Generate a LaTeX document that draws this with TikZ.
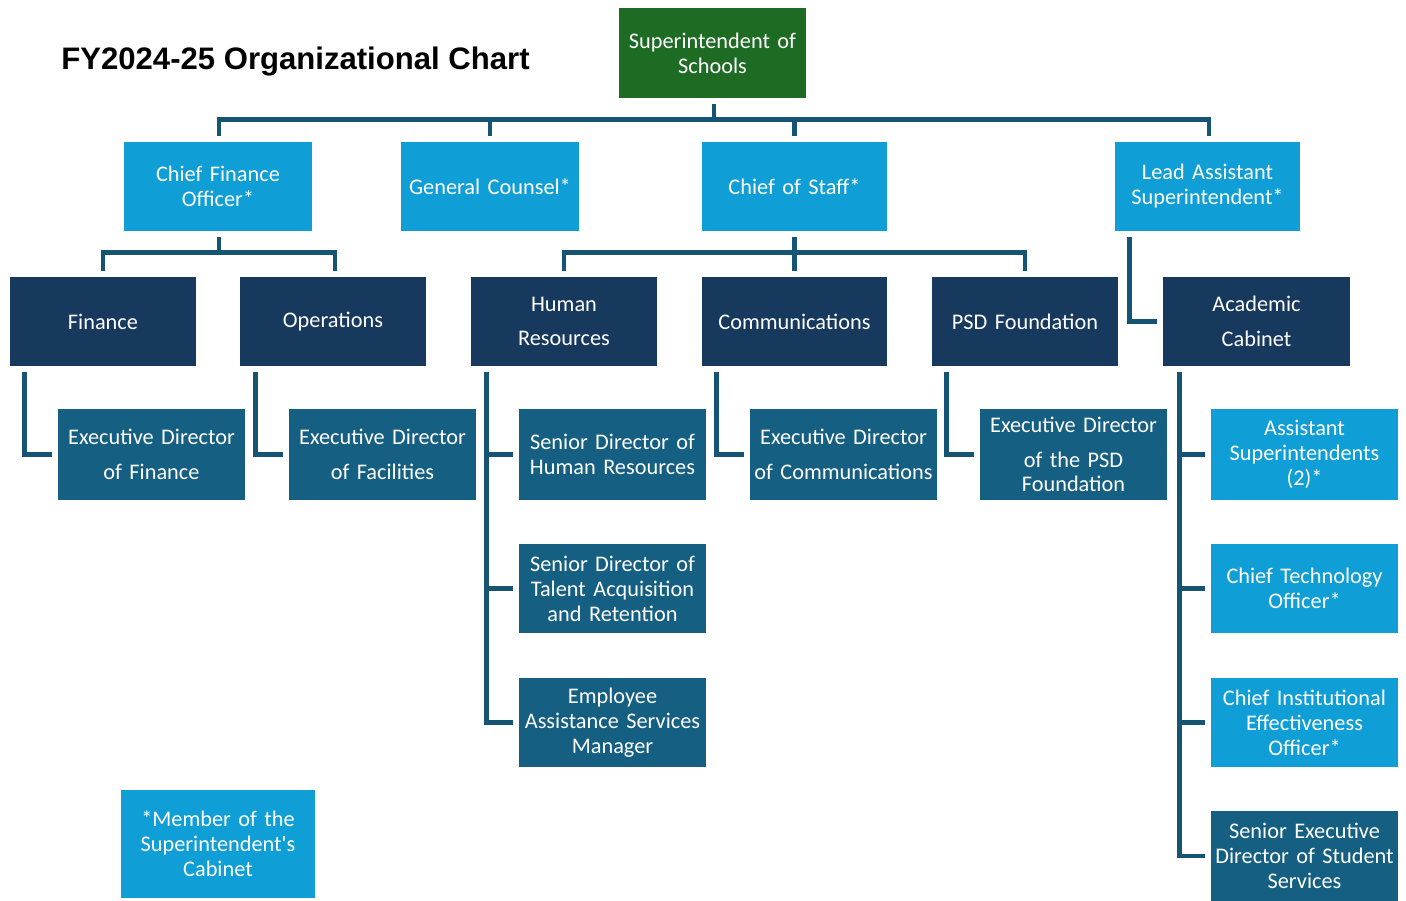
\documentclass[tikz,border=0pt]{standalone}
\usepackage{fontspec}
\setmainfont{Carlito}
\newfontfamily\boxfont{Carlito}
\newfontfamily\titlefont{Liberation Sans}
\usetikzlibrary{calc}
\definecolor{cgreen}{RGB}{30,107,36}
\definecolor{clight}{RGB}{15,158,213}
\definecolor{cnavy}{RGB}{24,57,94}
\definecolor{cteal}{RGB}{21,96,130}
\definecolor{cline}{RGB}{22,84,116}
\tikzset{
  box/.style={rectangle, inner sep=0pt, text=white, align=center,
    font=\boxfont\fontsize{12.7}{14.2}\selectfont, minimum height=1.78cm,
    minimum width=3.74cm, text width=3.74cm},
  greenbox/.style={box, fill=cgreen},
  lightbox/.style={box, fill=clight},
  navybox/.style={box, fill=cnavy},
  tealbox/.style={box, fill=cteal},
  conn/.style={draw=cline, line width=2.8pt, line join=miter}
}
\begin{document}
\begin{tikzpicture}[x=0.02cm, y=-0.02cm]
\useasboundingbox (0,0) rectangle (1406,901);
% title
\node[anchor=base west, inner sep=0pt, font=\titlefont\bfseries\fontsize{17.7}{20}\selectfont] (title) at (61,70) {FY2024-25 Organizational Chart};
% level 0
\node[greenbox, minimum height=1.8cm] (sup) at (712.5,53) {Superintendent of\\Schools};
% level 1
\node[lightbox, minimum width=3.76cm, text width=3.76cm] (cfo) at (218,186.5) {Chief Finance\\Officer*};
\node[lightbox, minimum width=3.56cm, text width=3.56cm] (gc) at (490,186.5) {General Counsel*};
\node[lightbox, minimum width=3.70cm, text width=3.70cm] (cos) at (794.5,186.5) {Chief of Staff*};
\node[lightbox, minimum width=3.70cm, text width=3.70cm] (lead) at (1207.5,186.5) {Lead Assistant\\Superintendent*};
% level 2
\node[navybox, minimum width=3.72cm, text width=3.72cm] (fin) at (103,321.5) {Finance};
\node[navybox, minimum width=3.72cm, text width=3.72cm] (ops) at (333,321.5) {Operations};
\node[navybox, minimum width=3.72cm, text width=3.72cm] (hr) at (564,321.5) {Human\\[5.6pt]Resources};
\node[navybox, minimum width=3.70cm, text width=3.70cm] (comm) at (794.5,321.5) {Communications};
\node[navybox, minimum width=3.72cm, text width=3.72cm] (psd) at (1025,321.5) {PSD Foundation};
\node[navybox] (acad) at (1256.5,321.5) {Academic\\[5.6pt]Cabinet};
% level 3
\node[tealbox, minimum height=1.82cm] (edfin) at (151.5,454.5) {Executive Director\\[5.6pt]of Finance};
\node[tealbox, minimum height=1.82cm] (edfac) at (382.5,454.5) {Executive Director\\[5.6pt]of Facilities};
\node[tealbox, minimum height=1.82cm] (sdhr) at (612.5,454.5) {Senior Director of\\Human Resources};
\node[tealbox, minimum height=1.82cm] (edcomm) at (843.5,454.5) {Executive Director\\[5.6pt]of Communications};
\node[tealbox, minimum height=1.82cm] (edpsd) at (1073.5,454.5) {Executive Director\\[5.6pt]of the PSD\\Foundation};
\node[lightbox, minimum height=1.82cm] (asst) at (1304.5,454.5) {Assistant\\Superintendents\\(2)*};
% level 4
\node[tealbox] (talent) at (612.5,588.5) {Senior Director of\\Talent Acquisition\\and Retention};
\node[tealbox] (eas) at (612.5,722.5) {Employee\\Assistance Services\\Manager};
\node[lightbox] (cto) at (1304.5,588.5) {Chief Technology\\Officer*};
\node[lightbox] (cieo) at (1304.5,722.5) {Chief Institutional\\Effectiveness\\Officer*};
\node[tealbox, minimum height=1.8cm] (sed) at (1304.5,856) {Senior Executive\\Director of Student\\Services};
% legend
\node[lightbox, minimum width=3.88cm, text width=3.88cm, minimum height=2.16cm] (legend) at (218,844) {*Member of the\\Superintendent's\\Cabinet};

% connectors: top bus
\draw[conn] ($(sup.south)+(1.5,6)$) -- ($(sup.south)+(1.5,22)$);
\draw[conn] ($(cfo.north)+(1,-6)$) -- ++(0,-16) -| ($(lead.north)+(1.5,-6)$);
\draw[conn] ($(gc.north)+(0,-6)$) -- ++(0,-16);
\draw[conn] ($(cos.north)+(0,-6)$) -- ++(0,-16);
% CFO bus
\draw[conn] ($(cfo.south)+(1,6)$) -- ++(0,16);
\draw[conn] ($(fin.north)+(0,-6)$) -- ++(0,-18) -| ($(ops.north)+(2,-6)$);
% Chief of Staff bus
\draw[conn] ($(cos.south)+(0,6)$) -- ($(comm.north)+(0,-6)$);
\draw[conn] ($(hr.north)+(0,-6)$) -- ++(0,-18) -| ($(psd.north)+(0,-6)$);
% Lead assistant to academic cabinet
\draw[conn] ($(lead.south west)+(15,6)$) |- ($(acad.west)+(-6,0)$);
% level 3 L connectors
\draw[conn] ($(fin.south west)+(15,6)$) |- ($(edfin.west)+(-6,0)$);
\draw[conn] ($(ops.south west)+(16,6)$) |- ($(edfac.west)+(-6,0)$);
\draw[conn] ($(comm.south west)+(15,6)$) |- ($(edcomm.west)+(-6,0)$);
\draw[conn] ($(psd.south west)+(15,6)$) |- ($(edpsd.west)+(-6,0)$);
% HR column
\coordinate (hrv) at ($(hr.south west)+(16,6)$);
\draw[conn] (hrv) |- ($(eas.west)+(-6,0)$);
\draw[conn] (hrv |- sdhr.west) -- ($(sdhr.west)+(-6,0)$);
\draw[conn] (hrv |- talent.west) -- ($(talent.west)+(-6,0)$);
% Academic column
\coordinate (acv) at ($(acad.south west)+(17,6)$);
\draw[conn] (acv) |- ($(sed.west)+(-6,0)$);
\draw[conn] (acv |- asst.west) -- ($(asst.west)+(-6,0)$);
\draw[conn] (acv |- cto.west) -- ($(cto.west)+(-6,0)$);
\draw[conn] (acv |- cieo.west) -- ($(cieo.west)+(-6,0)$);
\end{tikzpicture}
\end{document}
